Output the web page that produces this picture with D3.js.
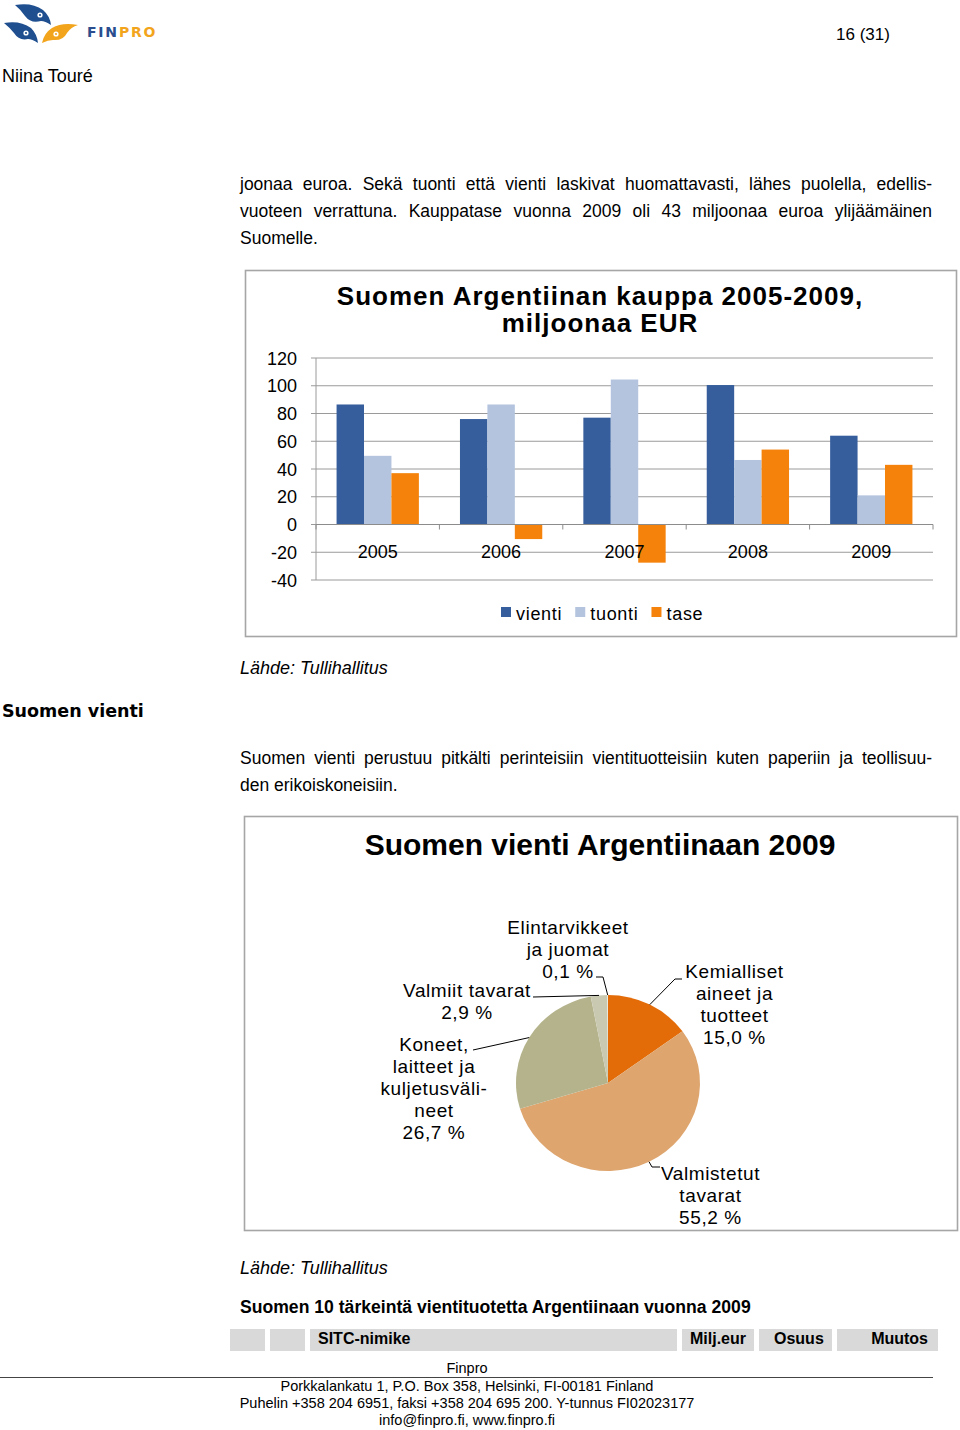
<!DOCTYPE html>
<html><head><meta charset="utf-8">
<script src="https://cdn.jsdelivr.net/npm/d3@7"></script>
<style>
body{margin:0;background:#fff;}
svg{display:block;font-family:"Liberation Sans",Arial,sans-serif;}
</style></head><body>
<svg id="page" width="960" height="1430"></svg>
<script>
// ---------- DATA ----------
const years = ["2005", "2006", "2007", "2008", "2009"];
const vienti = [86.5, 76, 77, 100.5, 64];
const tuonti = [49.5, 86.5, 104.5, 46.5, 21];
const tase = [37, -10.5, -27.5, 54, 43];
const seriesNames = ["vienti", "tuonti", "tase"];
const yTicks = [120, 100, 80, 60, 40, 20, 0, -20, -40];

const pieNames = [
  ["Kemialliset", "aineet ja", "tuotteet"],
  ["Valmistetut", "tavarat"],
  ["Koneet,", "laitteet ja", "kuljetusväli-", "neet"],
  ["Valmiit tavarat"],
  ["Elintarvikkeet", "ja juomat"]
];
const pieShares = [15.0, 55.2, 26.7, 2.9, 0.1];
const pieShareLabels = ["15,0 %", "55,2 %", "26,7 %", "2,9 %", "0,1 %"];
const tableHeaders = ["", "", "SITC-nimike", "Milj.eur", "Osuus", "Muutos"];

// ---------- STYLE / LAYOUT ----------
const barColors = ["#365E9D", "#B4C4DE", "#F5820A"];
const pieColors = ["#E36C09", "#DEA56E", "#B4B38B", "#C9C8B0", "#EDEBE0"];
const FONT = "'Liberation Sans', Arial, sans-serif";

const svg = d3.select("#page");

function justifyLine(text, x, y, width, size, weight) {
  const words = text.split(" ");
  const nodes = words.map(w => svg.append("text").attr("y", y)
    .attr("font-size", size).attr("font-weight", weight || "normal").text(w));
  const widths = nodes.map(n => n.node().getComputedTextLength());
  const total = d3.sum(widths);
  const gap = (width - total) / (words.length - 1);
  let cx = x;
  nodes.forEach((n, i) => { n.attr("x", cx); cx += widths[i] + gap; });
}
function plain(text, x, y, size, opts) {
  opts = opts || {};
  return svg.append("text").attr("x", x).attr("y", y).attr("font-size", size)
    .attr("font-weight", opts.weight || "normal")
    .attr("font-style", opts.style || "normal")
    .attr("text-anchor", opts.anchor || "start")
    .attr("fill", opts.fill || "#000")
    .attr("font-family", opts.family || FONT)
    .attr("letter-spacing", opts.ls || 0)
    .text(text);
}

// ---------- HEADER / LOGO ----------
const logo = svg.append("g");
logo.append("path").attr("d", "M15,5 Q32,2 43,10 Q50,16 51,25 Q45,21 41,21 Q31,24 25,16 Q20,9 15,5 Z").attr("fill", "#1F4F8F");
logo.append("circle").attr("cx", 40).attr("cy", 15).attr("r", 2.6).attr("fill", "#fff");
logo.append("circle").attr("cx", 40).attr("cy", 15).attr("r", 1.1).attr("fill", "#1F4F8F");
logo.append("path").attr("d", "M4,23 Q20,20 31,28 Q37,34 38,43 Q32,39 28,39 Q19,41 14,33 Q9,27 4,23 Z").attr("fill", "#1F4F8F");
logo.append("circle").attr("cx", 26).attr("cy", 33).attr("r", 2.6).attr("fill", "#fff");
logo.append("circle").attr("cx", 26).attr("cy", 33).attr("r", 1.1).attr("fill", "#1F4F8F");
logo.append("path").attr("d", "M78,25 Q62,22 52,28 Q44,33 42,43 Q48,40 53,40 Q63,41 67,33 Q71,27 78,25 Z").attr("fill", "#F2A51C");
logo.append("circle").attr("cx", 56).attr("cy", 34).attr("r", 2.6).attr("fill", "#fff");
logo.append("circle").attr("cx", 56).attr("cy", 34).attr("r", 1.1).attr("fill", "#F2A51C");
const lt = svg.append("text").attr("x", 87).attr("y", 37).attr("font-size", 14)
  .attr("font-weight", "bold").attr("font-family", "'DejaVu Sans', Verdana, sans-serif").attr("letter-spacing", 1.8);
lt.append("tspan").attr("fill", "#2A4E8E").text("FIN");
lt.append("tspan").attr("fill", "#F2A51C").text("PRO");

plain("16 (31)", 836, 40, 17);
plain("Niina Touré", 2, 82, 18);

// ---------- BODY TEXT ----------
justifyLine("joonaa euroa. Sekä tuonti että vienti laskivat huomattavasti, lähes puolella, edellis-", 240, 190, 692, 17.5);
justifyLine("vuoteen verrattuna. Kauppatase vuonna 2009 oli 43 miljoonaa euroa ylijäämäinen", 240, 217, 692, 17.5);
plain("Suomelle.", 240, 244, 17.5);

// ---------- BAR CHART ----------
svg.append("rect").attr("x", 245.5).attr("y", 270.5).attr("width", 711).attr("height", 366)
  .attr("fill", "#fff").attr("stroke", "#A6A6A6").attr("stroke-width", 1.6);

const titleG = svg.append("text").attr("text-anchor", "middle").attr("font-size", 26)
  .attr("font-weight", "bold").attr("letter-spacing", 1);
titleG.append("tspan").attr("x", 600).attr("y", 305).text("Suomen Argentiinan kauppa 2005-2009,");
titleG.append("tspan").attr("x", 600).attr("y", 332).text("miljoonaa EUR");

const y = d3.scaleLinear().domain([-40, 120]).range([580, 358]);
const x0 = d3.scaleBand().domain(years).range([316, 933]).paddingInner(0.333).paddingOuter(0.1667);
const x1 = d3.scaleBand().domain(seriesNames).range([0, x0.bandwidth()]);

const gridG = svg.append("g");
gridG.selectAll("line.grid").data(yTicks).join("line")
  .attr("x1", 311).attr("x2", 933).attr("y1", d => y(d)).attr("y2", d => y(d))
  .attr("stroke", "#9A9A9A").attr("stroke-width", 1);
gridG.append("line").attr("x1", 316).attr("x2", 316).attr("y1", y(120)).attr("y2", y(-40))
  .attr("stroke", "#9A9A9A");
svg.append("g").selectAll("text").data(yTicks).join("text")
  .attr("x", 297).attr("y", d => y(d) + 6.5).attr("text-anchor", "end").attr("font-size", 18)
  .text(d => d);

const seriesData = [vienti, tuonti, tase];
const barG = svg.append("g");
years.forEach((yr, i) => {
  seriesNames.forEach((s, j) => {
    const v = seriesData[j][i];
    barG.append("rect")
      .attr("x", x0(yr) + x1(s)).attr("width", x1.bandwidth())
      .attr("y", y(Math.max(0, v))).attr("height", Math.abs(y(v) - y(0)))
      .attr("fill", barColors[j]);
  });
});
// zero axis with category ticks
svg.append("line").attr("x1", 316).attr("x2", 933).attr("y1", y(0)).attr("y2", y(0))
  .attr("stroke", "#8C8C8C");
const bounds = years.map(d => x0(d) - (x0.step() - x0.bandwidth()) / 2);
bounds.push(933);
svg.append("g").selectAll("line").data(bounds).join("line")
  .attr("x1", d => d).attr("x2", d => d).attr("y1", y(0)).attr("y2", y(0) + 5)
  .attr("stroke", "#8C8C8C");
svg.append("g").selectAll("text").data(years).join("text")
  .attr("x", d => x0(d) + x0.bandwidth() / 2).attr("y", y(0) + 33).attr("text-anchor", "middle")
  .attr("font-size", 18).text(d => d);

// legend
let lx = 501;
seriesNames.forEach((s, j) => {
  svg.append("rect").attr("x", lx).attr("y", 607).attr("width", 10).attr("height", 10).attr("fill", barColors[j]);
  const t = plain(s, lx + 15, 620, 18, { ls: 0.7 });
  lx += 15 + t.node().getComputedTextLength() + 13;
});

plain("Lähde: Tullihallitus", 240, 674, 18, { style: "italic" });

// ---------- SECTION ----------
plain("Suomen vienti", 2, 717, 17.5, { weight: "bold", family: "'DejaVu Sans', Verdana, sans-serif" });
justifyLine("Suomen vienti perustuu pitkälti perinteisiin vientituotteisiin kuten paperiin ja teollisuu-", 240, 764, 692, 17.5);
plain("den erikoiskoneisiin.", 240, 791, 17.5);

// ---------- PIE CHART ----------
svg.append("rect").attr("x", 244.5).attr("y", 816.5).attr("width", 713).attr("height", 414)
  .attr("fill", "#fff").attr("stroke", "#A6A6A6").attr("stroke-width", 1.6);
plain("Suomen vienti Argentiinaan 2009", 600, 855, 30, { weight: "bold", anchor: "middle" });

const cx = 608, cy = 1083, rx = 92, ry = 88;
const pie = d3.pie().sort(null).value(d => d)(pieShares);
const arc = d3.arc().innerRadius(0).outerRadius(rx);
const pieG = svg.append("g").attr("transform", `translate(${cx},${cy}) scale(1,${ry / rx})`);
pieG.selectAll("path").data(pie).join("path").attr("d", arc)
  .attr("fill", (d, i) => pieColors[i]);

function edgePoint(d) {
  const a = (d.startAngle + d.endAngle) / 2;
  return [cx + rx * Math.sin(a), cy - ry * Math.cos(a)];
}
// label layout: [centerX, firstLineCenterY], leader start points
const labelPos = [[734.5, 971], [710.5, 1173], [434, 1044], [467, 990], [568, 927]];
const leaderStarts = [
  [[682, 979], [675, 979]],
  [[660, 1167], [652, 1167]],
  [[473, 1050]],
  [[533, 997]],
  [[596, 977], [603, 977]]
];
pie.forEach((d, i) => {
  const lines = pieNames[i].concat([pieShareLabels[i]]);
  const t = svg.append("text").attr("text-anchor", "middle").attr("font-size", 19).attr("letter-spacing", 0.6);
  lines.forEach((ln, k) => {
    t.append("tspan").attr("x", labelPos[i][0]).attr("y", labelPos[i][1] + 22 * k + 7).text(ln);
  });
  const pts = leaderStarts[i].concat([edgePoint(d)]);
  svg.append("path").attr("d", d3.line()(pts)).attr("fill", "none").attr("stroke", "#000").attr("stroke-width", 1);
});

plain("Lähde: Tullihallitus", 240, 1274, 18, { style: "italic" });

// ---------- TABLE ----------
plain("Suomen 10 tärkeintä vientituotetta Argentiinaan vuonna 2009", 240, 1313, 17.6, { weight: "bold" });
const cellX = [230, 270, 310, 682, 759, 837];
const cellW = [35, 35, 367, 72, 73, 101];
tableHeaders.forEach((h, i) => {
  svg.append("rect").attr("x", cellX[i]).attr("y", 1329).attr("width", cellW[i]).attr("height", 22).attr("fill", "#D9D9D9");
  if (h) {
    const right = i === 5;
    plain(h, right ? cellX[i] + cellW[i] - 10 : cellX[i] + (i === 2 ? 8 : i === 3 ? 8 : 15), 1344, 16,
      { weight: "bold", anchor: right ? "end" : "start" });
  }
});

// ---------- FOOTER ----------
plain("Finpro", 467, 1373, 14.5, { anchor: "middle" });
svg.append("line").attr("x1", 0).attr("x2", 933).attr("y1", 1377.5).attr("y2", 1377.5).attr("stroke", "#444");
plain("Porkkalankatu 1, P.O. Box 358, Helsinki, FI-00181 Finland", 467, 1391, 14.5, { anchor: "middle" });
plain("Puhelin +358 204 6951, faksi +358 204 695 200. Y-tunnus FI02023177", 467, 1408, 14.5, { anchor: "middle" });
plain("info@finpro.fi, www.finpro.fi", 467, 1425, 14.5, { anchor: "middle" });
</script>
</body></html>
